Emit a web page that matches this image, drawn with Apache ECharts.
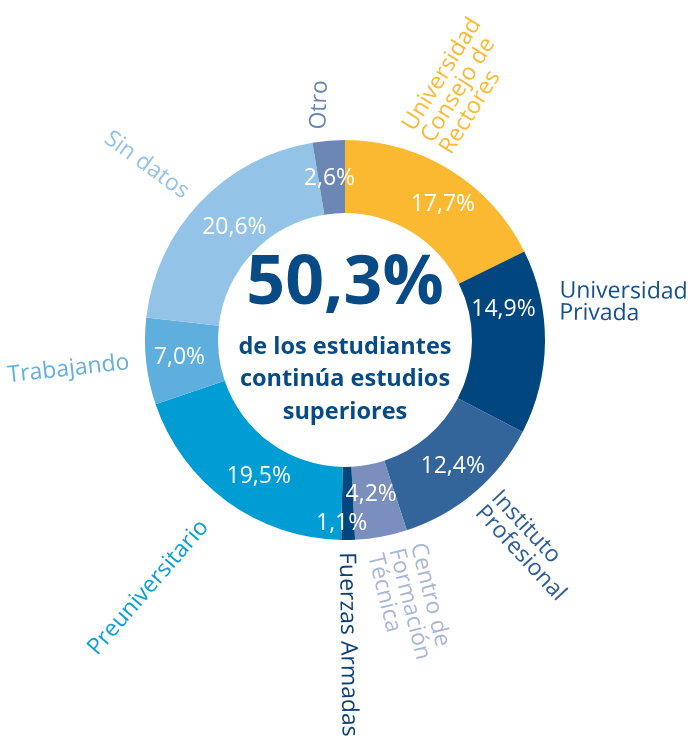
<!DOCTYPE html>
<html>
<head>
<meta charset="utf-8">
<script src="https://cdn.jsdelivr.net/npm/echarts@6/dist/echarts.min.js"></script>
<style>
  html, body { margin: 0; padding: 0; background: #fff; }
  #chart { width: 694px; height: 740px; }
</style>
</head>
<body>
<div id="chart"></div>
<script>
// categories, clockwise from 12 o'clock
const categories = [
  'Universidad\nConsejo de\nRectores',
  'Universidad\nPrivada',
  'Instituto\nProfesional',
  'Centro de\nFormación\nTécnica',
  'Fuerzas Armadas',
  'Preuniversitario',
  'Trabajando',
  'Sin datos',
  'Otro'
];
const values = [17.7, 14.9, 12.4, 4.2, 1.1, 19.5, 7.0, 20.6, 2.6];
const sliceColors = ['#fbb931', '#02467f', '#33659a', '#7a8fbd', '#02467f', '#009dd5', '#5eaede', '#93c4e7', '#6d87b5'];
const nameColors = ['#fbb931', '#12508b', '#2d5d95', '#a9b6d6', '#0d3f77', '#0aa0d6', '#63b0df', '#92c3e8', '#6c86b4'];
const centerValue = '50,3%';
const centerText = 'de los estudiantes\ncontinúa estudios\nsuperiores';

const chart = echarts.init(document.getElementById('chart'));
const font = '"Open Sans", "Noto Sans", sans-serif';

const fmt = v => v.toFixed(1).replace('.', ',') + '%';

const pctData = categories.map((name, i) => ({
  name,
  value: values[i],
  itemStyle: { color: sliceColors[i] }
}));

const nameData = categories.map((name, i) => ({
  name, value: values[i], label: { color: nameColors[i] }
}));

// hand nudges. note: dx/dy of a rotated label run along the rotated text
const pctShift = {
  0: [10, 6], 1: [-8, -32], 3: [-4, -9], 4: [-6, 17], 5: [12, 2], 7: [10, 2], 8: [-2, 4]
};
const nameShift = {
  0: { dx: -2, dy: -40 },
  1: { dx: -3, dy: -40 },
  2: { rotate: -47 },
  3: { dx: 2, dy: -7, rotate: -76 },
  4: { dy: 7 },
  5: { dx: -16, dy: 0, rotate: 49 },
  7: { rotate: -36 },
  8: { dx: -1, dy: -4, rotate: 88, align: 'left' }
};

const option = {
  animation: false,
  title: [
    {
      text: centerValue,
      left: 345, top: 251,
      padding: 0,
      textAlign: 'center',
      textStyle: { fontFamily: font, fontSize: 68, fontWeight: 'bold', color: '#064a86' }
    },
    {
      text: centerText,
      left: 345, top: 331,
      padding: 0,
      textAlign: 'center',
      textStyle: { fontFamily: font, fontSize: 23.5, fontWeight: 'bold', color: '#064a86', lineHeight: 32.5 }
    }
  ],
  series: [
    {
      type: 'pie',
      center: [345, 340],
      radius: [127, 200],
      startAngle: 90,
      clockwise: true,
      avoidLabelOverlap: false,
      silent: true,
      label: {
        position: 'inside',
        formatter: p => fmt(p.value),
        color: '#fff',
        fontFamily: font,
        fontSize: 23
      },
      labelLayout: p => {
        const s = pctShift[p.dataIndex];
        return s ? { dx: s[0], dy: s[1] } : {};
      },
      labelLine: { show: false },
      data: pctData
    },
    {
      type: 'pie',
      center: [345, 340],
      radius: [127, 200],
      startAngle: 90,
      clockwise: true,
      avoidLabelOverlap: false,
      silent: true,
      itemStyle: { color: 'rgba(0,0,0,0)' },
      label: {
        position: 'outside',
        rotate: 'radial',
        formatter: '{b}',
        fontFamily: font,
        fontSize: 23,
        lineHeight: 22
      },
      labelLayout: p => nameShift[p.dataIndex] || {},
      labelLine: { show: false, length: 12, length2: 0 },
      data: nameData
    }
  ]
};

chart.setOption(option);
window.addEventListener('resize', () => chart.resize());
</script>
</body>
</html>
